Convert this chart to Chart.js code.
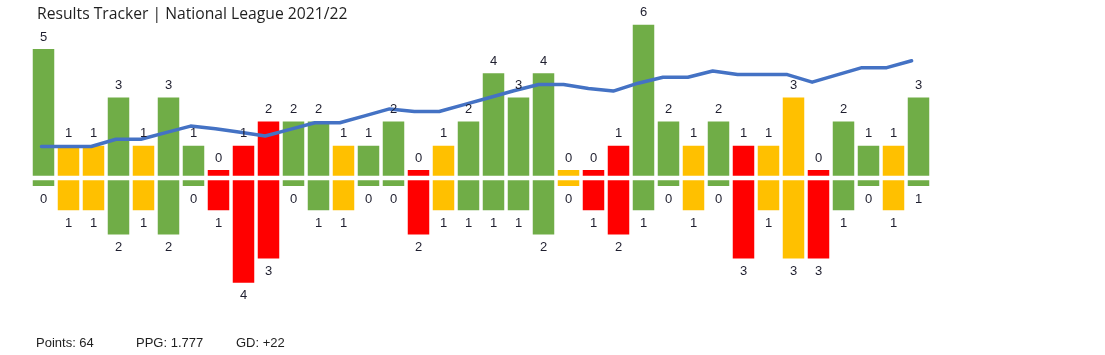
<!DOCTYPE html>
<html>
<head>
<meta charset="utf-8">
<script src="https://cdn.jsdelivr.net/npm/chart.js@4.4.1/dist/chart.umd.min.js"></script>
<style>
  html, body { margin: 0; padding: 0; background: #ffffff; }
  #wrap { position: relative; width: 1105px; height: 355px; overflow: hidden; }
  #c { position: absolute; left: 0; top: 0; }
  #title { position: absolute; left: 37px; top: 5px; font: 15.7px/16px "Open Sans", sans-serif; color: #1f1f1f; white-space: nowrap; }
  .foot { position: absolute; top: 335.5px; font: 13px/13px "Liberation Sans", Arial, sans-serif; color: #1f1f1f; white-space: nowrap; }
</style>
</head>
<body>
<div id="wrap">
  <canvas id="c" width="1105" height="355"></canvas>
  <div id="title">Results Tracker | National League 2021/22</div>
  <div class="foot" id="fPoints" style="left:36px"></div>
  <div class="foot" id="fPpg" style="left:136px"></div>
  <div class="foot" id="fGd" style="left:236px"></div>
</div>
<script>
// ---- data ----
const matches = ['1','2','3','4','5','6','7','8','9','10','11','12','13','14','15','16','17','18',
                 '19','20','21','22','23','24','25','26','27','28','29','30','31','32','33','34','35','36'];
// bar heights (goals scored / conceded)
const goalsFor     = [5,1,1,3,1,3,1,0,1,2,2,2,1,1,2,0,1,2,4,3,4,0,0,1,6,2,1,2,1,1,3,0,2,1,1,3];
const goalsAgainst = [0,1,1,2,1,2,0,1,4,3,0,1,1,0,0,2,1,1,1,1,2,0,1,2,1,0,1,0,3,1,3,3,1,0,1,0];
// numbers printed by the bars, as they appear in the picture
const forLabels     = ['5','1','1','3','1','3','1','0','1','2','2','2','1','1','2','0','1','2',
                       '4','3','4','0','0','1','6','2','1','2','1','1','3','0','2','1','1','3'];
const againstLabels = ['0','1','1','2','1','2','0','1','4','3','0','1','1','0','0','2','1','1',
                       '1','1','2','0','1','2','1','0','1','0','3','1','3','3','1','0','1','1'];
// trend line
const trend = [2.2,2.2,2.2,4.4,4.4,6.4,8.4,7.6,6.5,5.4,7.4,9.4,9.4,11.5,13.6,12.8,12.8,14.9,
               17.0,19.1,21.0,21.0,19.8,19.0,21.4,23.2,23.2,25.1,24.0,24.0,24.0,21.7,23.9,26.1,26.1,28.2];

const COLORS = { W: '#70AD47', D: '#FFC000', L: '#FF0000' };
const results = goalsFor.map((g, i) => g > goalsAgainst[i] ? 'W' : (g === goalsAgainst[i] ? 'D' : 'L'));
const barColors = results.map(r => COLORS[r]);

// bar geometry in goal units (gap around the zero line, visible stub for 0)
const GAP = 0.09, STUB = 0.33;
const forBars = goalsFor.map(g => [GAP, g + STUB]);
const againstBars = goalsAgainst.map(g => [-GAP, -(g + STUB)]);

// summary texts
const wins = results.filter(r => r === 'W').length;
const draws = results.filter(r => r === 'D').length;
const points = wins * 3 + draws;
const ppg = Math.floor(points / matches.length * 1000) / 1000;
const gd = goalsFor.reduce((a, b) => a + b, 0) - goalsAgainst.reduce((a, b) => a + b, 0);
document.getElementById('fPoints').textContent = 'Points: ' + points;
document.getElementById('fPpg').textContent = 'PPG: ' + ppg.toFixed(3);
document.getElementById('fGd').textContent = 'GD: ' + (gd >= 0 ? '+' : '') + gd;

const labelPlugin = {
  id: 'barLabels',
  afterDatasetsDraw(chart) {
    const ctx = chart.ctx;
    ctx.save();
    ctx.font = '13px "Liberation Sans", Arial, sans-serif';
    ctx.fillStyle = '#1f1f2f';
    ctx.textAlign = 'center';
    ctx.textBaseline = 'middle';
    chart.getDatasetMeta(1).data.forEach((el, i) => {
      ctx.fillText(forLabels[i], el.x, el.y - 12);
    });
    chart.getDatasetMeta(2).data.forEach((el, i) => {
      ctx.fillText(againstLabels[i], el.x, el.y + 13);
    });
    ctx.restore();
  }
};

new Chart(document.getElementById('c'), {
  type: 'bar',
  data: {
    labels: matches,
    datasets: [
      {
        type: 'line',
        label: 'Trend',
        data: trend.map((v, i) => ({ x: i, y: v })),
        xAxisID: 'x2',
        yAxisID: 'y2',
        borderColor: '#4472C4',
        borderWidth: 3.5,
        pointRadius: 0,
        tension: 0,
        fill: false,
        borderJoinStyle: 'round',
        borderCapStyle: 'round',
        order: 0
      },
      {
        label: 'Goals for',
        data: forBars,
        backgroundColor: barColors,
        borderWidth: 0,
        grouped: false,
        categoryPercentage: 1,
        barPercentage: 0.86,
        order: 1
      },
      {
        label: 'Goals against',
        data: againstBars,
        backgroundColor: barColors,
        borderWidth: 0,
        grouped: false,
        categoryPercentage: 1,
        barPercentage: 0.86,
        order: 1
      }
    ]
  },
  options: {
    responsive: false,
    animation: false,
    events: [],
    layout: { padding: { left: 31, right: 174, top: 8.6, bottom: 56 } },
    plugins: { legend: { display: false }, title: { display: false }, tooltip: { enabled: false } },
    scales: {
      x: { display: false, offset: true, grid: { display: false } },
      y: { display: false, min: -5, max: 7 },
      x2: { type: 'linear', display: false, offset: false, bounds: 'ticks', grid: { offset: false }, min: -0.42, max: 35.78 },
      y2: { type: 'linear', display: false, min: -44, max: 44 }
    }
  },
  plugins: [labelPlugin]
});
</script>
</body>
</html>
